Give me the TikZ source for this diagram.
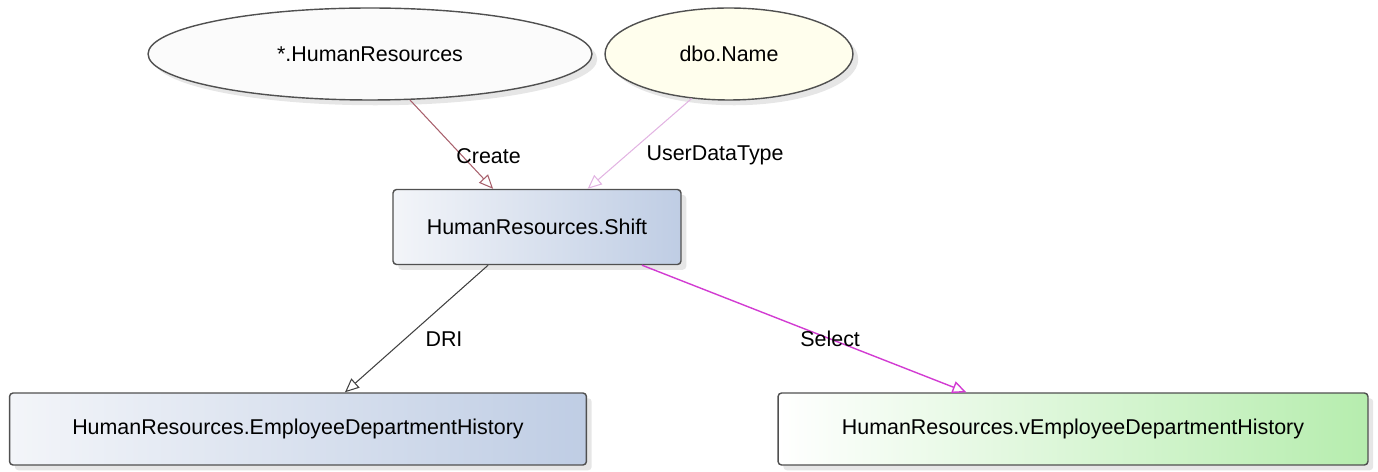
\documentclass[tikz,border=0pt]{standalone}
\usepackage{fontspec}
\setmainfont{Liberation Sans}
\usetikzlibrary{positioning, arrows.meta, calc, shapes.geometric, shadows}
\definecolor{linedark}{HTML}{404040}
\definecolor{boxedge}{HTML}{505050}
\definecolor{createcol}{HTML}{A8606C}
\definecolor{udtcol}{HTML}{E2B4E2}
\definecolor{selectcol}{HTML}{D23CD2}
\definecolor{tableleft}{HTML}{F3F5F9}
\definecolor{tableright}{HTML}{BFCDE4}
\definecolor{viewright}{HTML}{B6EDAE}
\begin{document}
\begin{tikzpicture}[
    x=0.02cm, y=-0.02cm,
    font=\fontsize{12.2}{14}\selectfont,
    schema/.style={ellipse, draw=boxedge, thick, inner sep=0pt, minimum height=1.84cm,
        drop shadow={opacity=0.2, shadow xshift=3pt, shadow yshift=-3pt}},
    table/.style={rectangle, rounded corners=2pt, draw=boxedge, thick,
        left color=tableleft, right color=tableright, minimum height=1.5cm,
        drop shadow={opacity=0.2, shadow xshift=3pt, shadow yshift=-3pt}},
    view/.style={table, left color=white, right color=viewright},
    dep/.style={-{Triangle[open, length=8pt, width=7pt]}, semithick}
]
\useasboundingbox (0,0) rectangle (1378,472);

% Oggetti sorgente
\node[schema, minimum width=8.88cm, fill=gray!3] (hrs) at (370,54) {*.HumanResources};
\node[schema, minimum width=4.96cm, fill=yellow!7] (dbo) at (729,54) {dbo.Name};

% Tabella centrale
\node[table, minimum width=5.76cm] (shift) at (537,227) {HumanResources.Shift};

% Oggetti dipendenti
\node[table, minimum width=11.54cm, minimum height=1.44cm] (edh) at (298,429) {HumanResources.EmployeeDepartmentHistory};
\node[view, minimum width=11.8cm, minimum height=1.44cm] (vedh) at (1073,429) {HumanResources.vEmployeeDepartmentHistory};

% Dipendenze
\draw[dep, createcol] (hrs.-49) -- node[pos=0.63, anchor=west, xshift=-7pt, text=black] {Create} (shift.139);
\draw[dep, udtcol] (dbo.-130) -- node[pos=0.63, anchor=west, xshift=8pt, text=black] {UserDataType} (shift.37);
\draw[dep, linedark] (shift.218) -- node[pos=0.58, anchor=west, xshift=8pt, text=black] {DRI} (edh.38);
\draw[dep, selectcol, thick] (shift.-20) -- node[pos=0.58, text=black] {Select} (vedh.161);

\end{tikzpicture}
\end{document}
